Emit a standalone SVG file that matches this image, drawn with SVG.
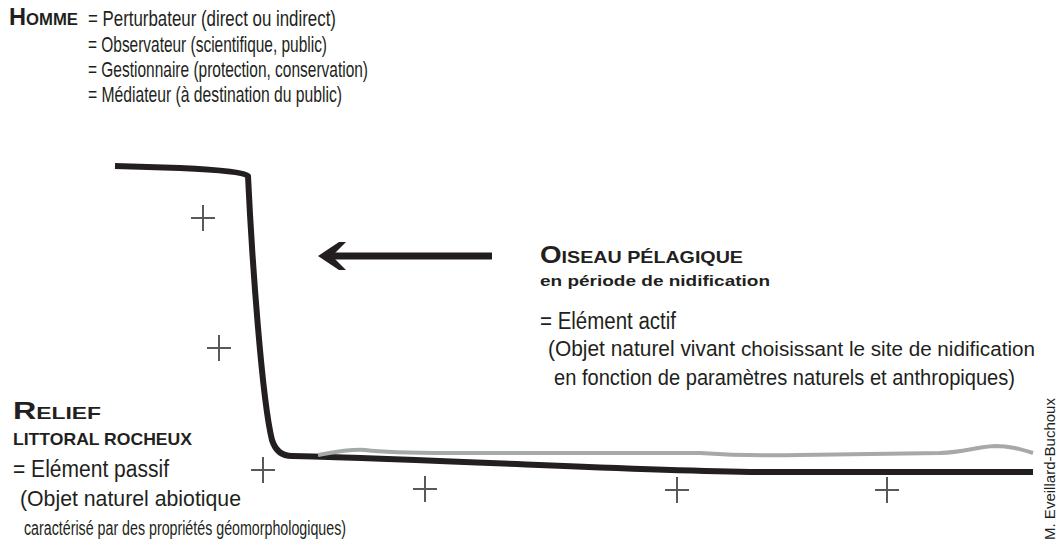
<svg xmlns="http://www.w3.org/2000/svg" width="1060" height="548" viewBox="0 0 1060 548">
<style>
text{font-family:"Liberation Sans",Arial,sans-serif;fill:#231f20}
.t{font-size:22px}
.s{font-size:20px}
.b{font-weight:bold}
.cross{stroke:#58595b;stroke-width:2;fill:none}
.coast{stroke:#231f20;stroke-width:6;fill:none;stroke-linejoin:round}
.sea{stroke:#a7a8aa;stroke-width:4;fill:none}
</style>
<defs>
<path id="plus" d="M-12,0H12M0,-13V13"/>
</defs>
<rect width="1060" height="548" fill="#fff"/>
<g id="homme">
<text x="9" y="25" class="b" textLength="69" lengthAdjust="spacingAndGlyphs"><tspan font-size="24">H</tspan><tspan font-size="17">OMME</tspan></text>
<text x="88" y="26" class="t" textLength="248" lengthAdjust="spacingAndGlyphs">= Perturbateur (direct ou indirect)</text>
<text x="88" y="52" class="t" textLength="239" lengthAdjust="spacingAndGlyphs">= Observateur (scientifique, public)</text>
<text x="88" y="77" class="t" textLength="280" lengthAdjust="spacingAndGlyphs">= Gestionnaire (protection, conservation)</text>
<text x="88" y="102" class="t" textLength="254" lengthAdjust="spacingAndGlyphs">= Médiateur (à destination du public)</text>
</g>
<g id="oiseau">
<text x="540" y="263" class="b" textLength="203" lengthAdjust="spacingAndGlyphs"><tspan font-size="24">O</tspan><tspan font-size="17">ISEAU PÉLAGIQUE</tspan></text>
<text x="540" y="286" class="b" font-size="15.5" textLength="230" lengthAdjust="spacingAndGlyphs">en période de nidification</text>
<text x="540" y="329" font-size="23" textLength="136" lengthAdjust="spacingAndGlyphs">= Elément actif</text>
<text x="548" y="356" class="t" textLength="187" lengthAdjust="spacingAndGlyphs">(Objet naturel vivant</text>
<text x="741" y="356" class="s" textLength="294" lengthAdjust="spacingAndGlyphs">choisissant le site de nidification</text>
<text x="554" y="385" class="t" textLength="461" lengthAdjust="spacingAndGlyphs">en fonction de paramètres naturels et anthropiques)</text>
</g>
<g id="relief">
<text x="13" y="419" class="b" textLength="88" lengthAdjust="spacingAndGlyphs"><tspan font-size="24">R</tspan><tspan font-size="17">ELIEF</tspan></text>
<text x="13" y="445" class="b" font-size="17" textLength="179" lengthAdjust="spacingAndGlyphs">LITTORAL ROCHEUX</text>
<text x="13" y="477" font-size="23" textLength="156" lengthAdjust="spacingAndGlyphs">= Elément passif</text>
<text x="20" y="506" class="t" textLength="221" lengthAdjust="spacingAndGlyphs">(Objet naturel abiotique</text>
<text x="24" y="535" class="s" textLength="322" lengthAdjust="spacingAndGlyphs">caractérisé par des propriétés géomorphologiques)</text>
</g>
<g id="crosses" class="cross">
<use href="#plus" x="203" y="218"/>
<use href="#plus" x="219" y="348"/>
<use href="#plus" x="263" y="470"/>
<use href="#plus" x="425" y="489"/>
<use href="#plus" x="677" y="490"/>
<use href="#plus" x="887" y="490"/>
</g>
<g id="connectors">
<path class="coast" d="M115,166 L180,168 Q244,171 248,176 C252,260 262,400 272,440 Q277,456 292,456 C480,461 620,470 760,472 L1033,472"/>
<path class="sea" d="M318,455 C335,452 350,449 365,450 C380,452 400,453 450,453 L700,453 C730,455 760,456 800,455 L940,453 C965,452 975,447 995,446 C1010,446 1020,449 1033,453"/>
<line x1="492" y1="256" x2="332" y2="256" stroke="#231f20" stroke-width="7"/>
<polygon points="318,256 339,242 346,242 332,256 346,270 339,270" fill="#231f20"/>
</g>
<g id="credit">
<text transform="translate(1055,540) rotate(-90)" font-size="14" textLength="142" lengthAdjust="spacingAndGlyphs">M. Eveillard-Buchoux</text>
</g>
</svg>
